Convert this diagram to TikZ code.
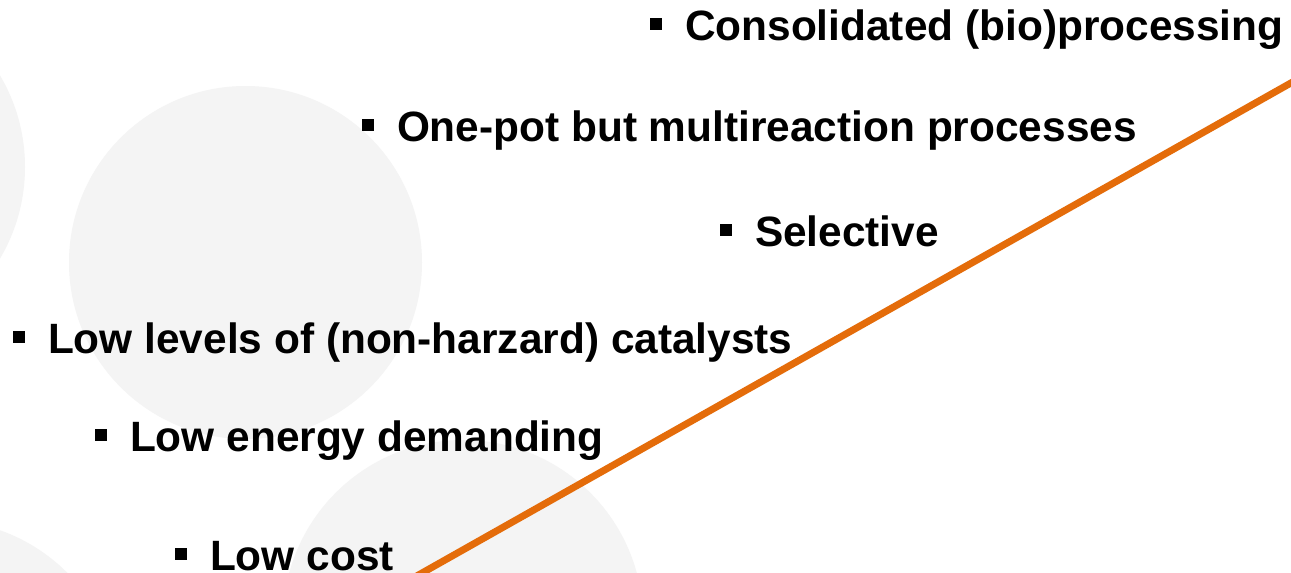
\documentclass[tikz,border=0pt]{standalone}
\usepackage{fontspec}
\setmainfont{Liberation Sans}
\definecolor{lineorange}{HTML}{E46C0A}
\definecolor{circgrey}{HTML}{F4F4F4}
\newcommand{\sqbullet}{\raisebox{10pt}{\rule{12pt}{12pt}}\hspace{23pt}}
\tikzset{
  item/.style={anchor=base west, inner sep=0pt, outer sep=0pt, text=black,
    font=\fontsize{42.4pt}{50pt}\selectfont\bfseries},
  bgcircle/.style={fill=circgrey, draw=none},
  trend/.style={draw=lineorange, line width=7pt}
}
\begin{document}
\begin{tikzpicture}[x=1pt,y=-1pt]
\useasboundingbox (0,0) rectangle (1291,573);
\fill[white] (0,0) rectangle (1291,573);
\begin{scope}
\clip (0,0) rectangle (1291,573);
\fill[bgcircle] (-155,167) circle[radius=180];
\fill[bgcircle] (245.5,262.5) circle[radius=176.5];
\fill[bgcircle] (463,620) circle[radius=180];
\fill[bgcircle] (-60,700) circle[radius=180];
\coordinate (lstart) at (400,585.4);
\coordinate (lend) at (1310,72.2);
\draw[trend] (lstart) -- (lend);
\end{scope}
\node[item] (cons) at (650,40) {\sqbullet Consolidated (bio)processing};
\node[item] (onepot) at (362,141) {\sqbullet One-pot but multireaction processes};
\node[item] (sel) at (720,246) {\sqbullet Selective};
\node[item] (lowlev) at (13,353) {\sqbullet Low levels of (non-harzard) catalysts};
\node[item] (lowen) at (95,451) {\sqbullet Low energy demanding};
\node[item] (lowcost) at (175,570) {\sqbullet Low cost};
\end{tikzpicture}
\end{document}
